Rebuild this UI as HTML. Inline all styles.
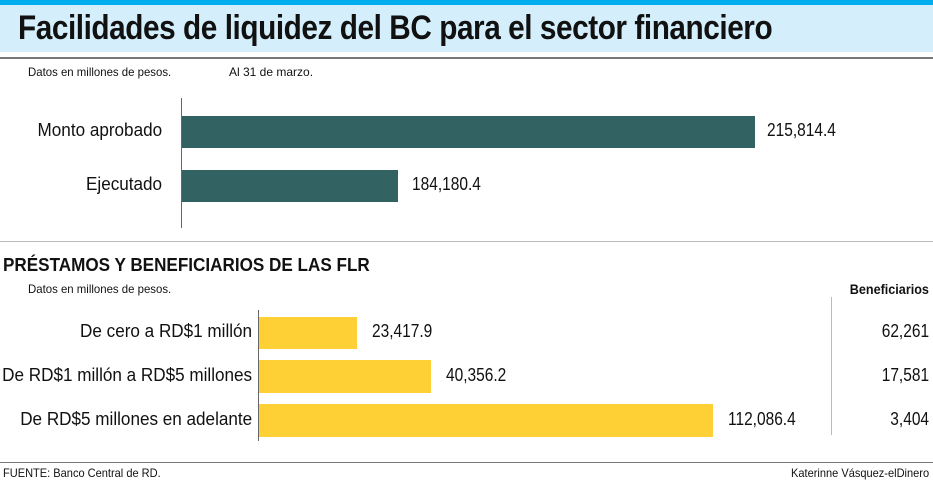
<!DOCTYPE html>
<html><head><meta charset="utf-8"><style>
body{margin:0;width:933px;height:492px;background:#fff;position:relative;overflow:hidden;font-family:"Liberation Sans",sans-serif;color:#111}
div{position:absolute;white-space:nowrap}
.t{font-size:18px;transform:scaleX(0.86);transform-origin:left}
.t.r{transform-origin:right}
.t.l{transform:scaleX(0.95)}
.s{font-size:12px}
.r{text-align:right}
</style></head><body>
<div style="left:0;top:0;width:933px;height:5px;background:#00aeef"></div>
<div style="left:0;top:5px;width:933px;height:47px;background:#d4effb"></div>
<div style="left:18px;top:6px;font-size:34px;font-weight:bold;letter-spacing:-0.5px;line-height:44px;transform:scaleX(0.875);transform-origin:left">Facilidades de liquidez del BC para el sector financiero</div>
<div style="left:0;top:57px;width:933px;height:2px;background:#777"></div>
<div class="s" style="left:28px;top:65px;transform:scaleX(0.95);transform-origin:left">Datos en millones de pesos.</div>
<div class="s" style="left:229px;top:65px">Al 31 de marzo.</div>
<div style="left:181px;top:98px;width:1px;height:130px;background:#666"></div>
<div style="left:182px;top:116px;width:573px;height:32px;background:#336262"></div>
<div style="left:182px;top:170px;width:216px;height:32px;background:#336262"></div>
<div class="t r l" style="right:771px;top:120px">Monto aprobado</div>
<div class="t r l" style="right:771px;top:174px">Ejecutado</div>
<div class="t" style="left:767px;top:120px">215,814.4</div>
<div class="t" style="left:412px;top:174px">184,180.4</div>
<div style="left:0;top:241px;width:933px;height:1px;background:#bbb"></div>
<div style="left:3px;top:255px;font-size:18px;font-weight:bold;transform:scaleX(0.95);transform-origin:left">PRÉSTAMOS Y BENEFICIARIOS DE LAS FLR</div>
<div class="s" style="left:28px;top:282px;transform:scaleX(0.95);transform-origin:left">Datos en millones de pesos.</div>
<div style="right:4px;top:281px;font-size:14px;font-weight:bold;transform:scaleX(0.9);transform-origin:right">Beneficiarios</div>
<div style="left:831px;top:297px;width:1px;height:138px;background:#bbb"></div>
<div style="left:258px;top:310px;width:1px;height:131px;background:#666"></div>
<div style="left:259px;top:317px;width:98px;height:32px;background:#ffd035"></div>
<div style="left:259px;top:360px;width:172px;height:33px;background:#ffd035"></div>
<div style="left:259px;top:404px;width:454px;height:33px;background:#ffd035"></div>
<div class="t r l" style="right:681px;top:321px">De cero a RD$1 millón</div>
<div class="t r l" style="right:681px;top:365px">De RD$1 millón a RD$5 millones</div>
<div class="t r l" style="right:681px;top:409px">De RD$5 millones en adelante</div>
<div class="t" style="left:372px;top:321px">23,417.9</div>
<div class="t" style="left:446px;top:365px">40,356.2</div>
<div class="t" style="left:728px;top:409px">112,086.4</div>
<div class="t r" style="right:4px;top:321px">62,261</div>
<div class="t r" style="right:4px;top:365px">17,581</div>
<div class="t r" style="right:4px;top:409px">3,404</div>
<div style="left:0;top:462px;width:933px;height:1px;background:#777"></div>
<div class="s" style="left:3px;top:466px;transform:scaleX(0.92);transform-origin:left">FUENTE: Banco Central de RD.</div>
<div class="s r" style="right:4px;top:466px;transform:scaleX(0.92);transform-origin:right">Katerinne Vásquez-elDinero</div>
</body></html>
